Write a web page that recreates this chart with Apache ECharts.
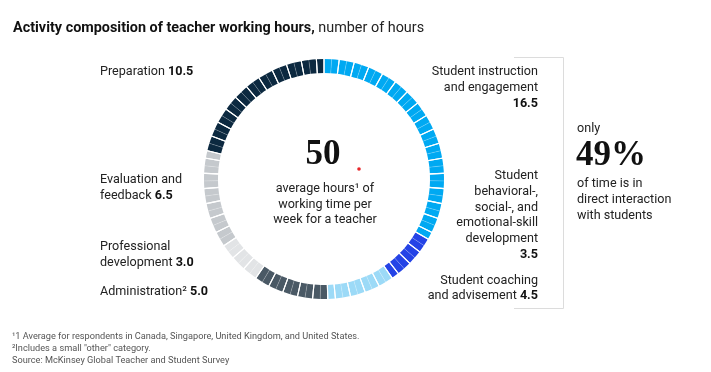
<!DOCTYPE html>
<html>
<head>
<meta charset="utf-8">
<script src="https://cdn.jsdelivr.net/npm/echarts@6/dist/echarts.min.js"></script>
<style>html,body{margin:0;padding:0;background:#fff;}#c{width:711px;height:372px;}</style>
</head>
<body>
<div id="c"></div>
<script>
// Categories clockwise from 12 o'clock
const categories = ['Student instruction and engagement', 'Student behavioral-, social-, and emotional-skill development', 'Student coaching and advisement', 'Administration', 'Professional development', 'Evaluation and feedback', 'Preparation'];
const hours = [16.5, 3.5, 4.5, 5.0, 3.0, 6.5, 10.5];
const colors = ['#00a9f2', '#2443e6', '#9cdaf7', '#4a5965', '#e2e4e6', '#c5c9cd', '#0c2940'];
const totalHours = '50';
const directShare = '49%';

const SANS = 'Roboto, "Liberation Sans", Arial, sans-serif';
const SERIF = '"Liberation Serif", "DejaVu Serif", serif';
const FS = 12.6;

// half-hour cells coloured by category
const halfCells = [];
const hourCells = [];
hours.forEach((h, i) => {
  const n = Math.round(h / 0.5);
  for (let k = 0; k < n; k++) halfCells.push({ value: 0.5, name: categories[i] + ' ' + k, itemStyle: { color: colors[i] } });
  let rest = h;
  while (rest > 0) {
    const v = Math.min(1, rest);
    hourCells.push({ value: v, name: categories[i] + ' h' + rest });
    rest -= v;
  }
});

const chart = echarts.init(document.getElementById('c'), null, { renderer: 'canvas' });
const center = [324, 179];
const common = { type: 'pie', center: center, startAngle: 90, clockwise: true, silent: true, animation: false, label: { show: false }, labelLine: { show: false }, avoidLabelOverlap: false, minAngle: 0 };

function txt(x, y, text, opts) {
  return {
    type: 'text', x: x, y: y, silent: true,
    style: Object.assign({ text: text, font: FS + 'px ' + SANS, fill: '#222', textAlign: 'left', textVerticalAlign: 'middle' }, opts || {})
  };
}
const boldRich = { b: { fontFamily: SANS, fontSize: FS, fontWeight: 'bold', fill: '#111' } };
const foot = { font: '9.2px ' + SANS, fill: '#555' };

chart.setOption({
  backgroundColor: '#fff',
  series: [
    Object.assign({}, common, { radius: [106, 120], data: halfCells, itemStyle: { borderWidth: 0 } }),
    Object.assign({}, common, { radius: [102, 124], data: halfCells.map(d => ({ value: d.value, name: d.name + 'x' })), itemStyle: { color: 'rgba(0,0,0,0)', borderColor: 'rgba(255,255,255,0.22)', borderWidth: 0.5 } }),
    Object.assign({}, common, { radius: [102, 124], data: hourCells, itemStyle: { color: 'rgba(0,0,0,0)', borderColor: '#ffffff', borderWidth: 1.1 } })
  ],
  graphic: [
    // title
    txt(13, 28, '{t|Activity composition of teacher working hours,} number of hours', { font: '14.4px ' + SANS, fill: '#222', rich: { t: { fontFamily: SANS, fontSize: 14.4, fontWeight: 'bold', fill: '#111' } } }),
    // centre
    txt(323, 155, totalHours, { font: 'bold 35px ' + SERIF, fill: '#111', textAlign: 'center' }),
    { type: 'circle', shape: { cx: 359, cy: 169, r: 1.8 }, style: { fill: '#e8262a' }, silent: true },
    txt(325, 189, 'average hours¹ of', { textAlign: 'center' }),
    txt(325, 205, 'working time per', { textAlign: 'center' }),
    txt(325, 220, 'week for a teacher', { textAlign: 'center' }),
    // left labels
    txt(100, 72, 'Preparation {b|' + hours[6].toFixed(1) + '}', { rich: boldRich }),
    txt(100, 180, 'Evaluation and'),
    txt(100, 196, 'feedback {b|' + hours[5].toFixed(1) + '}', { rich: boldRich }),
    txt(100, 247, 'Professional'),
    txt(100, 263, 'development {b|' + hours[4].toFixed(1) + '}', { rich: boldRich }),
    txt(100, 292, 'Administration² {b|' + hours[3].toFixed(1) + '}', { rich: boldRich }),
    // right labels
    txt(538, 72, 'Student instruction', { textAlign: 'right' }),
    txt(538, 88, 'and engagement', { textAlign: 'right' }),
    txt(538, 104, '{b|' + hours[0].toFixed(1) + '}', { textAlign: 'right', rich: boldRich }),
    txt(538, 176, 'Student', { textAlign: 'right' }),
    txt(538, 192, 'behavioral-,', { textAlign: 'right' }),
    txt(538, 208, 'social-, and', { textAlign: 'right' }),
    txt(538, 223, 'emotional-skill', { textAlign: 'right' }),
    txt(538, 239, 'development', { textAlign: 'right' }),
    txt(538, 255, '{b|' + hours[1].toFixed(1) + '}', { textAlign: 'right', rich: boldRich }),
    txt(538, 281, 'Student coaching', { textAlign: 'right' }),
    txt(538, 296, 'and advisement {b|' + hours[2].toFixed(1) + '}', { textAlign: 'right', rich: boldRich }),
    // bracket
    { type: 'polyline', silent: true, shape: { points: [[514, 57.5], [563.5, 57.5], [563.5, 308.5], [514, 308.5]] }, style: { stroke: '#dcdcdc', lineWidth: 1, fill: null } },
    // right callout
    txt(577, 129, 'only'),
    txt(576, 156, directShare, { font: 'bold 35px ' + SERIF, fill: '#111' }),
    txt(577, 184, 'of time is in'),
    txt(577, 200, 'direct interaction'),
    txt(577, 216, 'with students'),
    // footnotes
    txt(12, 337, '¹1 Average for respondents in Canada, Singapore, United Kingdom, and United States.', foot),
    txt(12, 349, '²Includes a small "other" category.', foot),
    txt(12, 361, 'Source: McKinsey Global Teacher and Student Survey', foot)
  ]
});
</script>
</body>
</html>
